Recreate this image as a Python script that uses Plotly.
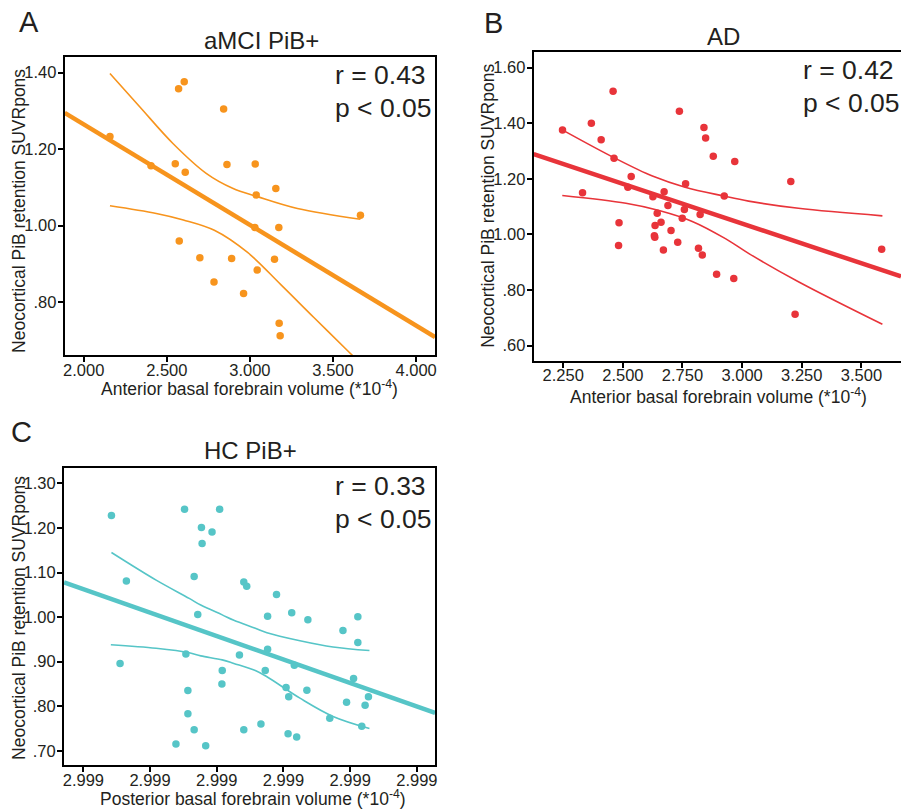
import plotly.graph_objects as go

# ---------------- Panel A: aMCI PiB+ ----------------
a_x = [2.158, 2.405, 2.571, 2.605, 2.551, 2.611, 2.575, 2.842, 2.862, 2.699, 2.890, 2.784,
       2.962, 3.032, 3.038, 3.030, 3.044, 3.156, 3.174, 3.148, 3.176, 3.182, 3.665]
a_y = [1.233, 1.157, 1.358, 1.376, 1.162, 1.140, 0.960, 1.305, 1.160, 0.916, 0.914, 0.853,
       0.823, 1.161, 1.080, 0.995, 0.884, 1.097, 0.995, 0.912, 0.745, 0.712, 1.027]
a_fit_x = [1.886, 4.114]
a_fit_y = [1.295, 0.709]
a_up_x = [2.158, 2.337, 2.537, 2.737, 2.896, 3.046, 3.286, 3.665]
a_up_y = [1.398, 1.311, 1.215, 1.137, 1.098, 1.076, 1.045, 1.017]
a_lo_x = [2.158, 2.437, 2.600, 2.786, 2.986, 3.186, 3.385, 3.605, 3.665]
a_lo_y = [1.052, 1.032, 1.015, 0.988, 0.930, 0.846, 0.760, 0.666, 0.640]
a_xticks = [2.0, 2.5, 3.0, 3.5, 4.0]
a_xtext = ["2.000", "2.500", "3.000", "3.500", "4.000"]
a_yticks = [0.8, 1.0, 1.2, 1.4]
a_ytext = [".80", "1.00", "1.20", "1.40"]
a_stats = ["r = 0.43", "p &lt; 0.05"]

# ---------------- Panel B: AD ----------------
b_x = [2.247, 2.331, 2.368, 2.409, 2.459, 2.463, 2.484, 2.482, 2.521, 2.535, 2.626, 2.673,
       2.689, 2.644, 2.635, 2.632, 2.634, 2.660, 2.670, 2.702, 2.730, 2.737, 2.749, 2.758,
       2.763, 2.817, 2.824, 2.833, 2.840, 2.847, 2.879, 2.893, 2.925, 2.965, 2.969, 3.204,
       3.222, 3.585]
b_y = [1.376, 1.150, 1.400, 1.341, 1.515, 1.274, 1.042, 0.960, 1.170, 1.208, 1.136, 1.154,
       1.104, 1.076, 1.032, 0.995, 0.990, 1.044, 0.944, 1.014, 0.972, 1.443, 1.058, 1.090,
       1.182, 0.950, 1.072, 0.926, 1.385, 1.347, 1.281, 0.857, 1.138, 0.842, 1.262, 1.190,
       0.713, 0.947]
b_fit_x = [2.126, 3.666]
b_fit_y = [1.289, 0.849]
b_up_x = [2.246, 2.463, 2.624, 2.761, 2.924, 3.027, 3.236, 3.588]
b_up_y = [1.376, 1.276, 1.210, 1.170, 1.138, 1.120, 1.094, 1.067]
b_lo_x = [2.246, 2.513, 2.652, 2.791, 2.930, 3.027, 3.236, 3.588]
b_lo_y = [1.140, 1.112, 1.086, 1.047, 0.985, 0.932, 0.830, 0.677]
b_xticks = [2.25, 2.5, 2.75, 3.0, 3.25, 3.5]
b_xtext = ["2.250", "2.500", "2.750", "3.000", "3.250", "3.500"]
b_yticks = [0.6, 0.8, 1.0, 1.2, 1.4, 1.6]
b_ytext = [".60", ".80", "1.00", "1.20", "1.40", "1.60"]
b_stats = ["r = 0.42", "p &lt; 0.05"]

# ---------------- Panel C: HC PiB+ ----------------
c_x = [0.421, 0.645, 0.550, 1.388, 1.517, 1.537, 1.567, 1.567, 1.661, 1.661, 1.715, 1.770,
       1.780, 1.834, 1.929, 2.043, 2.082, 2.077, 2.340, 2.405, 2.405, 2.449, 2.662, 2.727,
       2.762, 2.762, 2.896, 3.039, 3.079, 3.069, 3.124, 3.163, 3.198, 3.351, 3.366, 3.694,
       3.892, 3.946, 4.051, 4.115, 4.115, 4.174, 4.224, 4.274]
c_y = [1.228, 1.081, 0.896, 0.715, 1.242, 0.917, 0.835, 0.783, 0.747, 1.091, 1.006, 1.201,
       1.165, 0.711, 1.191, 1.242, 0.880, 0.850, 0.915, 0.747, 1.079, 1.069, 0.760, 0.880,
       1.002, 0.928, 1.051, 0.842, 0.821, 0.738, 1.010, 0.892, 0.731, 0.836, 0.994, 0.773,
       0.970, 0.809, 0.862, 1.001, 0.943, 0.755, 0.802, 0.821]
c_fit_x = [-0.29, 5.273]
c_fit_y = [1.078, 0.785]
c_up_x = [0.421, 1.091, 1.587, 1.760, 2.082, 2.256, 2.578, 2.752, 3.247, 3.743, 4.289]
c_up_y = [1.145, 1.083, 1.042, 1.027, 1.005, 0.993, 0.975, 0.965, 0.947, 0.933, 0.925]
c_lo_x = [0.412, 1.091, 1.587, 1.760, 2.082, 2.256, 2.578, 2.752, 3.247, 3.743, 4.289]
c_lo_y = [0.938, 0.930, 0.920, 0.913, 0.904, 0.896, 0.880, 0.866, 0.818, 0.777, 0.750]
c_xticks = [0, 1, 2, 3, 4, 5]
c_xtext = ["2.999"] * 6
c_yticks = [0.7, 0.8, 0.9, 1.0, 1.1, 1.2, 1.3]
c_ytext = [".70", ".80", ".90", "1.00", "1.10", "1.20", "1.30"]
c_stats = ["r = 0.33", "p &lt; 0.05"]

ORANGE = "#F7941D"
RED = "#E8343A"
TEAL = "#56C5C7"
TXT = "#231F20"
FONT = "Liberation Sans, Arial, Helvetica, sans-serif"

W, H = 903, 811

fig = go.Figure()


def add_panel(ax, xs, ys, fx, fy, ux, uy, lx, ly, color):
    xa = "x" if ax == 1 else f"x{ax}"
    ya = "y" if ax == 1 else f"y{ax}"
    fig.add_trace(go.Scatter(x=ux, y=uy, mode="lines", line=dict(color=color, width=1.6, shape="spline"),
                             xaxis=xa, yaxis=ya, hoverinfo="skip"))
    fig.add_trace(go.Scatter(x=lx, y=ly, mode="lines", line=dict(color=color, width=1.6, shape="spline"),
                             xaxis=xa, yaxis=ya, hoverinfo="skip"))
    fig.add_trace(go.Scatter(x=fx, y=fy, mode="lines", line=dict(color=color, width=4.5),
                             xaxis=xa, yaxis=ya, hoverinfo="skip"))
    fig.add_trace(go.Scatter(x=xs, y=ys, mode="markers", marker=dict(color=color, size=7.5),
                             xaxis=xa, yaxis=ya))


add_panel(1, a_x, a_y, a_fit_x, a_fit_y, a_up_x, a_up_y, a_lo_x, a_lo_y, ORANGE)
add_panel(2, b_x, b_y, b_fit_x, b_fit_y, b_up_x, b_up_y, b_lo_x, b_lo_y, RED)
add_panel(3, c_x, c_y, c_fit_x, c_fit_y, c_up_x, c_up_y, c_lo_x, c_lo_y, TEAL)


def axis(domain, rng, tv, tt, anchor, mirror=True, standoff=0):
    return dict(domain=domain, range=rng, tickmode="array", tickvals=tv, ticktext=tt,
                showline=True, linecolor="black", linewidth=2, mirror=mirror,
                ticks="outside", ticklen=5, tickwidth=1.5, tickcolor="black",
                showgrid=False, zeroline=False, anchor=anchor, ticklabelstandoff=standoff,
                tickfont=dict(family=FONT, size=16.5, color=TXT))


def px(x):
    return x / W


def py(y):
    return 1 - y / H


fig.update_layout(
    width=W, height=H, margin=dict(l=0, r=0, t=0, b=0),
    paper_bgcolor="white", plot_bgcolor="white", showlegend=False,
    font=dict(family=FONT, color=TXT),
    xaxis=axis([px(63), px(435)], [1.886, 4.114], a_xticks, a_xtext, "y", standoff=-6),
    yaxis=axis([py(355), py(57)], [0.662, 1.441], a_yticks, a_ytext, "x", standoff=-2),
    xaxis2=axis([px(534), 1.0], [2.126, 3.666], b_xticks, b_xtext, "y2", standoff=-7),
    yaxis2=axis([py(361), py(52.3)], [0.545, 1.655], b_yticks, b_ytext, "x2", mirror=False, standoff=-2),
    xaxis3=axis([px(62.3), px(435)], [-0.29, 5.273], c_xticks, c_xtext, "y3", standoff=-6),
    yaxis3=axis([py(765), py(468.3)], [0.668, 1.334], c_yticks, c_ytext, "x3", standoff=-2),
)

ann = []


def text(x, y, s, size, xanchor="center", angle=0):
    ann.append(dict(x=px(x), y=py(y), xref="paper", yref="paper", text=s, showarrow=False,
                    xanchor=xanchor, yanchor="middle", textangle=angle,
                    font=dict(family=FONT, size=size, color=TXT)))


# panel letters
text(27.5, 22, "A", 29)
text(494, 23, "B", 29)
text(20, 432, "C", 29)
# titles
text(261, 41, "aMCI PiB+", 24)
text(725, 36, "AD", 24)
text(250, 450, "HC PiB+", 24)
# stats
for stats, x0, y0 in [(a_stats, 332, 75), (b_stats, 803, 70), (c_stats, 332, 486)]:
    text(x0, y0, stats[0], 26.5, "left")
    text(x0, y0 + 33, stats[1], 26.5, "left")
# axis titles
ytitle = "Neocortical PiB retention SUVRpons"
text(17, 211, ytitle, 17.5, angle=-90)
text(488, 206, ytitle, 17.5, angle=-90)
text(17, 618, ytitle, 17.5, angle=-90)
text(249, 388, "Anterior basal forebrain volume (*10<sup>-4</sup>)", 17.5)
text(720, 396, "Anterior basal forebrain volume (*10<sup>-4</sup>)", 17.5)
text(252, 798, "Posterior basal forebrain volume (*10<sup>-4</sup>)", 17.5)

fig.update_layout(annotations=ann)
fig.write_html("out.html")
